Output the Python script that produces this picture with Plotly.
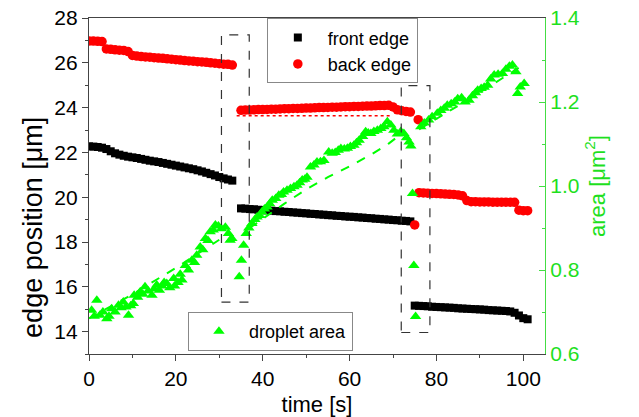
import plotly.graph_objects as go

# ---------------- data ----------------
# time [s] for the edge measurements
t_edge = [0, 1, 2, 3, 4, 5, 6, 7, 8, 9, 10, 11, 12, 13, 14, 15, 16, 17, 18, 19,
          20, 21, 22, 23, 24, 25, 26, 27, 28, 29, 30, 31, 32, 33,
          35, 36, 37, 38, 39, 40, 41, 42, 43, 44, 45, 46, 47, 48, 49, 50,
          51, 52, 53, 54, 55, 56, 57, 58, 59, 60, 61, 62, 63, 64, 65, 66,
          67, 68, 69, 70, 71, 72, 73, 74,
          75, 75.8,
          76, 77, 78, 79, 80, 81, 82, 83, 84, 85, 86, 87, 88, 89, 90, 91,
          92, 93, 94, 95, 96, 97, 98, 99, 100, 101]

front_edge = [22.27, 22.26, 22.24, 22.21, 22.15, 22.05, 21.96, 21.9, 21.85, 21.81,
              21.78, 21.75, 21.71, 21.67, 21.63, 21.6, 21.57, 21.53, 21.49, 21.45,
              21.41, 21.37, 21.33, 21.29, 21.25, 21.2, 21.15, 21.09, 21.03, 20.97,
              20.9, 20.84, 20.79, 20.74,
              19.5, 19.49, 19.47, 19.46, 19.44, 19.43, 19.41, 19.4, 19.38, 19.37,
              19.35, 19.34, 19.32, 19.31, 19.29, 19.28, 19.26, 19.25, 19.23, 19.22,
              19.2, 19.19, 19.17, 19.16, 19.14, 19.13, 19.12, 19.1, 19.09, 19.07,
              19.06, 19.04, 19.03, 19.01, 19.0, 18.98, 18.97, 18.95, 18.94, 18.92,
              15.16, None,
              15.15, 15.14, 15.13, 15.11, 15.1, 15.09, 15.08, 15.07, 15.06, 15.04,
              15.03, 15.02, 15.01, 15.0, 14.99, 14.98, 14.96, 14.95, 14.94, 14.93,
              14.92, 14.9, 14.84, 14.72, 14.6, 14.55]

back_edge = [26.97, 26.97, 26.96, 26.95, 26.62, 26.6, 26.58, 26.56, 26.55, 26.5,
             26.33, 26.3, 26.28, 26.26, 26.25, 26.23, 26.21, 26.2, 26.18, 26.16,
             26.14, 26.12, 26.1, 26.08, 26.07, 26.05, 26.04, 26.02, 26.0, 25.98,
             25.96, 25.94, 25.93, 25.9,
             23.88, 23.89, 23.89, 23.9, 23.91, 23.91, 23.92, 23.93, 23.93, 23.94,
             23.95, 23.95, 23.96, 23.96, 23.97, 23.98, 23.98, 23.99, 24.0, 24.0,
             24.01, 24.02, 24.02, 24.03, 24.04, 24.04, 24.05, 24.05, 24.06, 24.07,
             24.07, 24.08, 24.09, 24.09, 24.1, 24.03, 23.9, 23.86, 23.83, 23.8,
             18.76, 23.46,
             20.2, 20.19, 20.18, 20.17, 20.16, 20.15, 20.14, 20.13, 20.12, 20.1,
             20.06, 19.85, 19.8, 19.8, 19.79, 19.79, 19.79, 19.78, 19.78, 19.78,
             19.78, 19.78, 19.77, 19.42, 19.4, 19.4]

# droplet area [um^2]
t_area = [0.6, 1.2, 1.8, 2.5, 3.2, 4.1, 4.6, 5.2, 6.0, 6.8, 7.4, 7.9, 8.5, 9.1, 9.6,
          10.2, 10.4, 11.2, 11.8, 12.4, 12.9, 13.6, 14.5, 15.0, 15.6, 16.2, 16.8,
          17.3, 17.9, 18.6, 19.5, 19.7, 20.5, 21.0, 21.4, 22.2, 22.9, 23.7, 24.3,
          24.8, 25.6, 26.2, 26.8, 27.4, 27.9, 28.6, 29.1, 29.8, 30.5, 31.4, 32.1,
          32.5, 32.9,
          34.6, 35.1, 35.6, 36.2, 36.8, 37.5, 38.2, 38.7, 39.3, 39.8, 40.4, 41.0,
          41.6, 42.2, 43.0, 43.7, 44.3, 44.8, 45.6, 46.4, 47.2, 47.9, 48.5, 49.1,
          49.7, 50.2, 51.0, 51.8, 52.5, 53.3, 54.1, 55.2, 56.0, 56.7, 57.4, 58.0,
          58.8, 59.5, 60.2, 61.0, 61.6, 62.2, 63.0, 63.7, 64.3, 64.9, 65.6, 66.4,
          67.2, 67.9, 68.7, 69.5, 70.2, 71.0, 71.8, 72.5, 73.1, 73.7, 74.1,
          74.5, 74.8, 75.2,
          76.4, 77.2, 78.2, 79.0, 80.2, 81.0, 81.8, 82.5, 83.4, 84.2, 84.9, 85.8,
          86.6, 87.5, 88.3, 89.0, 89.5, 90.3, 91.0, 91.8, 92.5, 93.3, 94.2, 95.2,
          96.0, 96.8, 97.5, 98.3, 98.7, 99.3, 100.2]

area = [0.704, 0.69, 0.728, 0.692, 0.70, 0.684, 0.69, 0.708, 0.70, 0.716, 0.71,
        0.724, 0.712, 0.692, 0.715, 0.72, 0.74, 0.735, 0.748, 0.742, 0.76, 0.75,
        0.74, 0.755, 0.764, 0.752, 0.762, 0.77, 0.768, 0.758, 0.78, 0.762, 0.77,
        0.79, 0.776, 0.811, 0.80, 0.823, 0.818, 0.835, 0.855, 0.848, 0.875, 0.87,
        0.891, 0.895, 0.907, 0.905, 0.898, 0.902, 0.887, 0.871, 0.875,
        0.784, 0.823, 0.859, 0.887, 0.9, 0.911, 0.92, 0.926, 0.93, 0.938, 0.945,
        0.95, 0.958, 0.966, 0.97, 0.978, 0.98, 0.986, 0.99, 0.994, 0.998, 1.002,
        1.008, 1.014, 1.016, 1.021, 1.045, 1.05, 1.057, 1.058, 1.061, 1.081, 1.078,
        1.08, 1.085, 1.089, 1.088, 1.09, 1.094, 1.097, 1.103, 1.109, 1.118, 1.129,
        1.126, 1.125, 1.13, 1.133, 1.137, 1.141, 1.153, 1.145, 1.133, 1.124, 1.13,
        1.125, 1.115, 1.105, 1.095,
        0.982, 0.811, 0.689,
        1.141, 1.15, 1.157, 1.165, 1.173, 1.18, 1.185, 1.192, 1.196, 1.2, 1.208,
        1.21, 1.2, 1.204, 1.215, 1.222, 1.228, 1.232, 1.235, 1.24, 1.255, 1.264,
        1.266, 1.268, 1.278, 1.285, 1.288, 1.272, 1.22, 1.236, 1.244]

# linear fits of the area (dashed)
fit1_t, fit1_area = [0, 10, 20, 30], [0.685, 0.742, 0.805, 0.872]
fit2_t = [37, 45, 50, 55, 60, 65, 69, 72]
fit2_area = [0.90, 0.958, 0.992, 1.021, 1.047, 1.075, 1.101, 1.125]
fit3_t, fit3_area = [76, 88, 100], [1.135, 1.21, 1.288]

# reference level of back edge (dotted)
ref_t, ref_edge = [34, 69.5], [23.64, 23.64]

# highlighted intervals (dashed boxes): time range and edge-position range
box_t = [(30.5, 36.9), (71.9, 78.5)]
box_y = [(15.32, 27.25), (13.96, 24.98)]

GREEN = "#00ff00"
GREEN_TXT = "#1ee01e"
GREEN_AX = "#44dd44"
FONT = "Liberation Sans, Arial, sans-serif"

fig = go.Figure()

fig.add_trace(go.Scatter(x=t_edge, y=front_edge, mode="markers", name="front edge",
                         marker=dict(symbol="square", size=8, color="black",
                                     line=dict(width=0)),
                         legend="legend"))
fig.add_trace(go.Scatter(x=t_edge, y=back_edge, mode="markers", name="back edge",
                         marker=dict(symbol="circle", size=9.5, color="red",
                                     line=dict(width=0)),
                         legend="legend"))
fig.add_trace(go.Scatter(x=ref_t, y=ref_edge, mode="lines", showlegend=False,
                         line=dict(color="red", width=1.5, dash="dot")))

for ft, fa in [(fit1_t, fit1_area), (fit2_t, fit2_area), (fit3_t, fit3_area)]:
    fig.add_trace(go.Scatter(x=ft, y=fa, mode="lines", yaxis="y2", showlegend=False,
                             line=dict(color=GREEN, width=2, dash="dash")))

fig.add_trace(go.Scatter(x=t_area, y=area, mode="markers", name="droplet area",
                         yaxis="y2", legend="legend2",
                         marker=dict(symbol="triangle-up", size=10, color=GREEN,
                                     line=dict(width=0))))

for (x0, x1), (y0, y1) in zip(box_t, box_y):
    fig.add_shape(type="rect", xref="x", yref="y", x0=x0, x1=x1, y0=y0, y1=y1,
                  line=dict(color="#333", width=1.2, dash="dash"))

# left axis title placed as in the reference (slightly below centre)
fig.add_annotation(text="edge position [μm]", textangle=-90, xref="paper", yref="paper",
                   x=-0.123, y=0.378, xanchor="center", yanchor="middle",
                   showarrow=False, font=dict(size=27, color="black", family=FONT))

fig.update_layout(
    width=639, height=417,
    margin=dict(l=89, r=94, t=18, b=63),
    paper_bgcolor="white", plot_bgcolor="white",
    font=dict(family=FONT, size=21, color="black"),
    xaxis=dict(range=[0, 105], tick0=0, dtick=20, ticks="outside", ticklen=6,
               ticklabelstandoff=0, automargin=False,
               showgrid=False, zeroline=False, showline=True, linecolor="#444",
               linewidth=1.2, mirror=True,
               minor=dict(dtick=10, ticks="outside", ticklen=3, tickcolor="#444"),
               tickcolor="#444",
               title=dict(text="time [s]", font=dict(size=22), standoff=7)),
    yaxis=dict(range=[13, 28], tick0=14, dtick=2, ticks="outside", ticklen=6,
               automargin=False,
               showgrid=False, zeroline=False, showline=True, linecolor="#444",
               linewidth=1.2, tickcolor="#444",
               minor=dict(dtick=1, ticks="outside", ticklen=3, tickcolor="#444")),
    yaxis2=dict(range=[0.6, 1.4], tick0=0.6, dtick=0.2, tickformat=".1f",
                overlaying="y", side="right", ticks="inside", ticklen=6,
                automargin=False,
                showgrid=False, zeroline=False, showline=True, linecolor=GREEN_AX,
                linewidth=1.2, tickcolor=GREEN_AX,
                tickfont=dict(color=GREEN_TXT),
                minor=dict(dtick=0.1, ticks="inside", ticklen=3, tickcolor=GREEN_AX),
                title=dict(text="area [μm<sup>2</sup>]",
                           font=dict(color=GREEN_TXT, size=22), standoff=10)),
    legend=dict(x=0.39, y=0.999, xanchor="left", yanchor="top",
                bgcolor="white", bordercolor="#888", borderwidth=1,
                font=dict(size=18), itemwidth=50, tracegroupgap=0),
    legend2=dict(x=0.217, y=0.125, xanchor="left", yanchor="top",
                 bgcolor="white", bordercolor="#888", borderwidth=1,
                 font=dict(size=18), itemwidth=50),
)

fig.write_html("out.html")
